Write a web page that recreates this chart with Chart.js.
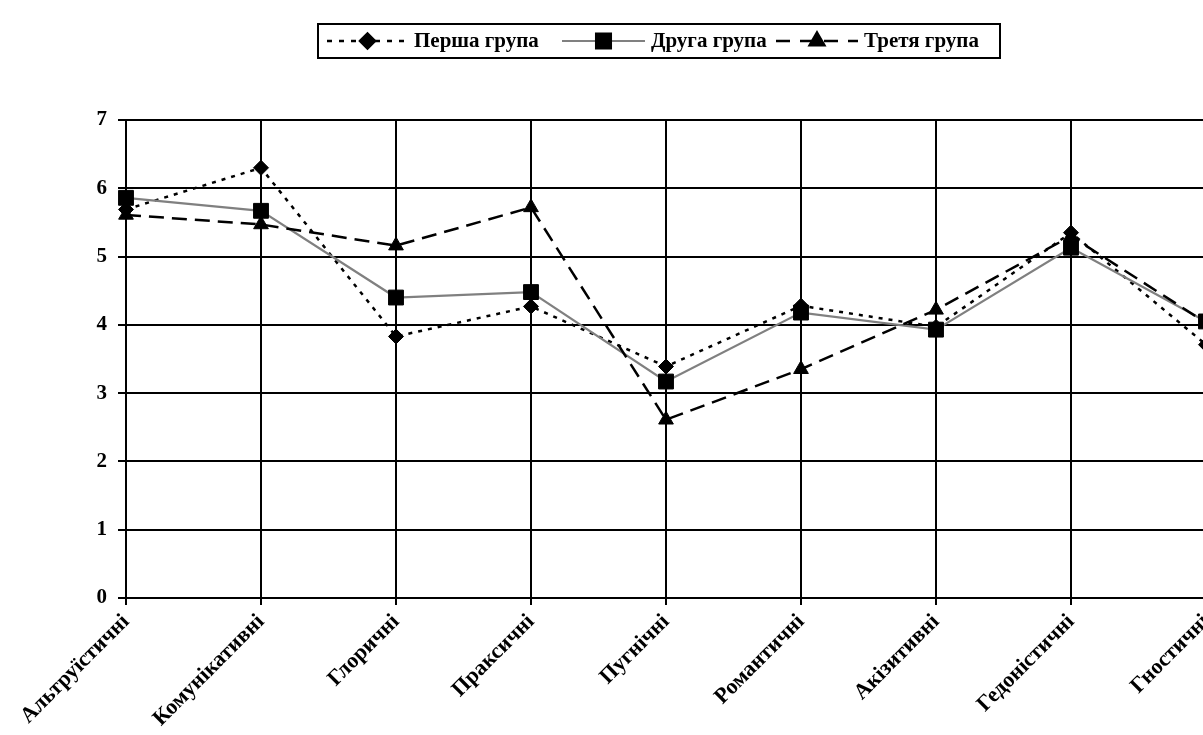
<!DOCTYPE html>
<html>
<head>
<meta charset="utf-8">
<script src="https://cdn.jsdelivr.net/npm/chart.js@4/dist/chart.umd.min.js"></script>
<style>
html,body{margin:0;padding:0;overflow:hidden;background:#fff;}
#wrap{position:relative;width:1220px;height:735px;}
</style>
</head>
<body>
<div id="wrap"><canvas id="c"></canvas></div>
<script>
const categories = ['Альтруїстичні','Комунікативні','Глоричні','Праксичні','Пугнічні','Романтичні','Акізитивні','Гедоністичні','Гностичні'];
const seriesNames = ['Перша група','Друга група','Третя група'];
const group1 = [5.69, 6.30, 3.83, 4.27, 3.39, 4.28, 3.97, 5.35, 3.71];
const group2 = [5.86, 5.67, 4.40, 4.48, 3.17, 4.18, 3.93, 5.13, 4.05];
const group3 = [5.61, 5.47, 5.16, 5.72, 2.61, 3.35, 4.22, 5.30, 4.03];
const yTicks = [0,1,2,3,4,5,6,7];

const FONT = '"Liberation Serif","Times New Roman",serif';

const legendPlugin = {
  id: 'boxLegend',
  afterDraw(chart) {
    const ctx = chart.ctx;
    ctx.save();
    ctx.font = 'bold 21px ' + FONT;
    ctx.textBaseline = 'middle';
    ctx.textAlign = 'left';
    const top = 24, bottom = 58, cy = 41;
    const sampleStart = [327, 562, 776];
    const sampleLen = [81, 83, 82];
    const dashes = [[5, 7], [], [14, 10]];
    chart.data.datasets.forEach((ds, i) => {
      const x = sampleStart[i];
      ctx.beginPath();
      ctx.setLineDash(dashes[i]);
      ctx.strokeStyle = ds.borderColor;
      ctx.lineWidth = ds.borderWidth;
      ctx.moveTo(x, cy);
      ctx.lineTo(x + sampleLen[i], cy);
      ctx.stroke();
      ctx.setLineDash([]);
      ctx.fillStyle = '#000';
      ctx.strokeStyle = '#000';
      Chart.helpers.drawPoint(ctx, {pointStyle: ds.pointStyle, radius: ds.pointRadius, borderWidth: 1, rotation: 0}, x + sampleLen[i] / 2, cy);
      ctx.fillStyle = '#000';
      ctx.fillText(ds.label, x + sampleLen[i] + 6, cy + 1);
    });
    ctx.lineWidth = 2;
    ctx.strokeStyle = '#000';
    ctx.strokeRect(318, top, 1000 - 318, bottom - top);
    ctx.restore();
  }
};

new Chart(document.getElementById('c'), {
  type: 'line',
  data: {
    labels: categories,
    datasets: [
      {label: seriesNames[0], data: group1, borderColor: '#000', borderWidth: 2.5, borderDash: [4, 6],
       pointStyle: 'rectRot', pointRadius: 7.5, pointBackgroundColor: '#000', pointBorderColor: '#000', pointBorderWidth: 1, order: 3, clip: false, tension: 0},
      {label: seriesNames[1], data: group2, borderColor: '#808080', borderWidth: 2.2,
       pointStyle: 'rect', pointRadius: 10.5, pointBackgroundColor: '#000', pointBorderColor: '#000', pointBorderWidth: 1, order: 2, clip: false, tension: 0},
      {label: seriesNames[2], data: group3, borderColor: '#000', borderWidth: 2.5, borderDash: [15, 8],
       pointStyle: 'triangle', pointRadius: 8.5, pointBackgroundColor: '#000', pointBorderColor: '#000', pointBorderWidth: 1, order: 1, clip: false, tension: 0}
    ]
  },
  options: {
    responsive: true,
    maintainAspectRatio: false,
    animation: false,
    layout: {padding: {top: 120, right: 14, left: 0, bottom: 0}},
    plugins: {legend: {display: false}, tooltip: {enabled: false}},
    scales: {
      x: {
        offset: false,
        grid: {color: '#000', lineWidth: 2, tickLength: 7},
        border: {color: '#000', width: 2},
        ticks: {color: '#000', font: {family: FONT, size: 22, weight: 'bold'}, maxRotation: 45, minRotation: 45, autoSkip: false, padding: 4},
        afterFit(s) { s.paddingLeft = 0; s.paddingRight = 0; s.height = 137; }
      },
      y: {
        min: 0, max: 7,
        afterBuildTicks(s) { s.ticks = yTicks.map(v => ({value: v})); },
        grid: {color: '#000', lineWidth: 2, tickLength: 8},
        border: {color: '#000', width: 2},
        ticks: {color: '#000', font: {family: FONT, size: 21, weight: 'bold'}, padding: 11},
        afterFit(s) { s.width = 126; s.paddingTop = 0; s.paddingBottom = 0; }
      }
    }
  },
  plugins: [legendPlugin]
});
</script>
</body>
</html>
